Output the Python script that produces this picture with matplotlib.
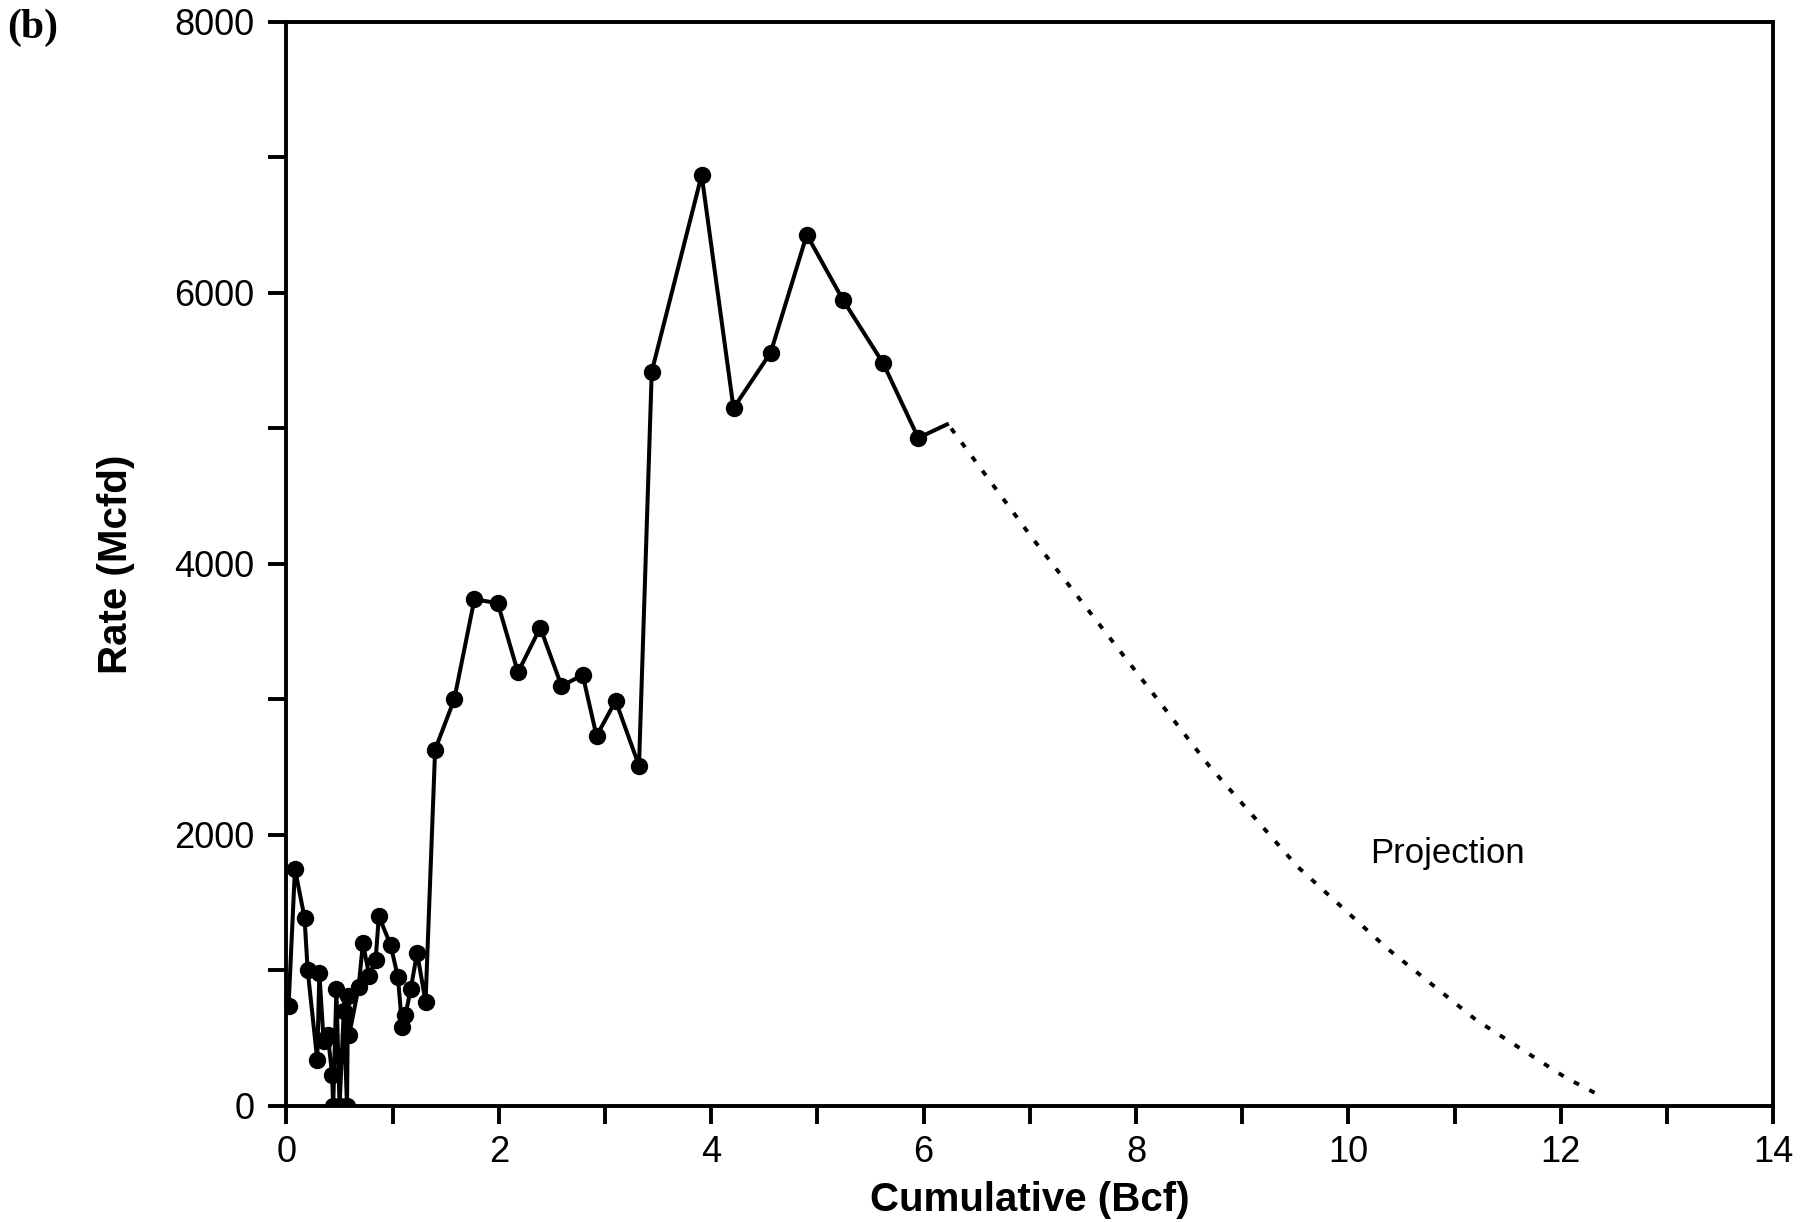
import matplotlib.pyplot as plt
from matplotlib.ticker import MultipleLocator

plt.rcParams['font.family'] = ['Liberation Sans', 'DejaVu Sans']

cum_bcf = [0.02, 0.08, 0.17, 0.20, 0.29, 0.31, 0.35, 0.39, 0.43, 0.44,
           0.47, 0.50, 0.54, 0.57, 0.58, 0.59, 0.68, 0.72, 0.78, 0.84,
           0.87, 0.98, 1.05, 1.09, 1.12, 1.17, 1.23, 1.31, 1.40, 1.58,
           1.77, 1.99, 2.18, 2.39, 2.59, 2.79, 2.92, 3.10, 3.32, 3.44,
           3.91, 4.21, 4.56, 4.90, 5.24, 5.62, 5.95]
rate_mcfd = [740, 1750, 1390, 1000, 340, 980, 480, 520, 230, 0,
             860, 0, 700, 0, 810, 520, 880, 1200, 960, 1080,
             1400, 1190, 950, 580, 670, 860, 1130, 770, 2630, 3000,
             3740, 3710, 3200, 3530, 3100, 3180, 2730, 2990, 2510, 5420,
             6870, 5150, 5560, 6430, 5950, 5480, 4930]

# short unmarked tail after the last point
tail_x = [5.95, 6.22]
tail_y = [4930, 5030]

# projection (dotted)
proj_x = [6.26, 7.01, 7.85, 8.69, 9.52, 10.36, 11.20, 12.04, 12.36]
proj_y = [5000, 4205, 3357, 2509, 1767, 1166, 636, 212, 80]

fig = plt.figure(figsize=(18.13, 12.22), dpi=100)
ax = fig.add_axes([0.158, 0.095, 0.820, 0.887])

ax.plot(cum_bcf, rate_mcfd, color='black', lw=2.9, marker='o', ms=11.5,
        mfc='black', mec='black', zorder=3)
ax.plot(tail_x, tail_y, color='black', lw=2.9)
ax.plot(proj_x, proj_y, color='black', lw=2.8, linestyle=(0, (1.5, 3.0)))

ax.text(10.93, 1860, 'Projection', fontsize=25, ha='center', va='center')

ax.set_xlim(0, 14)
ax.set_ylim(0, 8000)
ax.xaxis.set_major_locator(MultipleLocator(2))
ax.xaxis.set_minor_locator(MultipleLocator(1))
ax.yaxis.set_major_locator(MultipleLocator(2000))
ax.yaxis.set_minor_locator(MultipleLocator(1000))

ax.tick_params(which='both', direction='out', length=13, width=2.8,
               top=False, right=False)
ax.tick_params(axis='both', labelsize=26)
ax.tick_params(axis='x', pad=8)
ax.tick_params(axis='y', pad=10)

for sp in ax.spines.values():
    sp.set_linewidth(2.8)

ax.set_xlabel('Cumulative (Bcf)', fontsize=29, fontweight='bold', labelpad=8)
ax.set_ylabel('Rate (Mcfd)', fontsize=29, fontweight='bold', labelpad=28)

fig.text(0.004, 0.977, '(b)', fontsize=30, fontweight='bold',
         family=['Liberation Serif', 'DejaVu Serif'], ha='left', va='center')

fig.savefig('out.png', dpi=100)
